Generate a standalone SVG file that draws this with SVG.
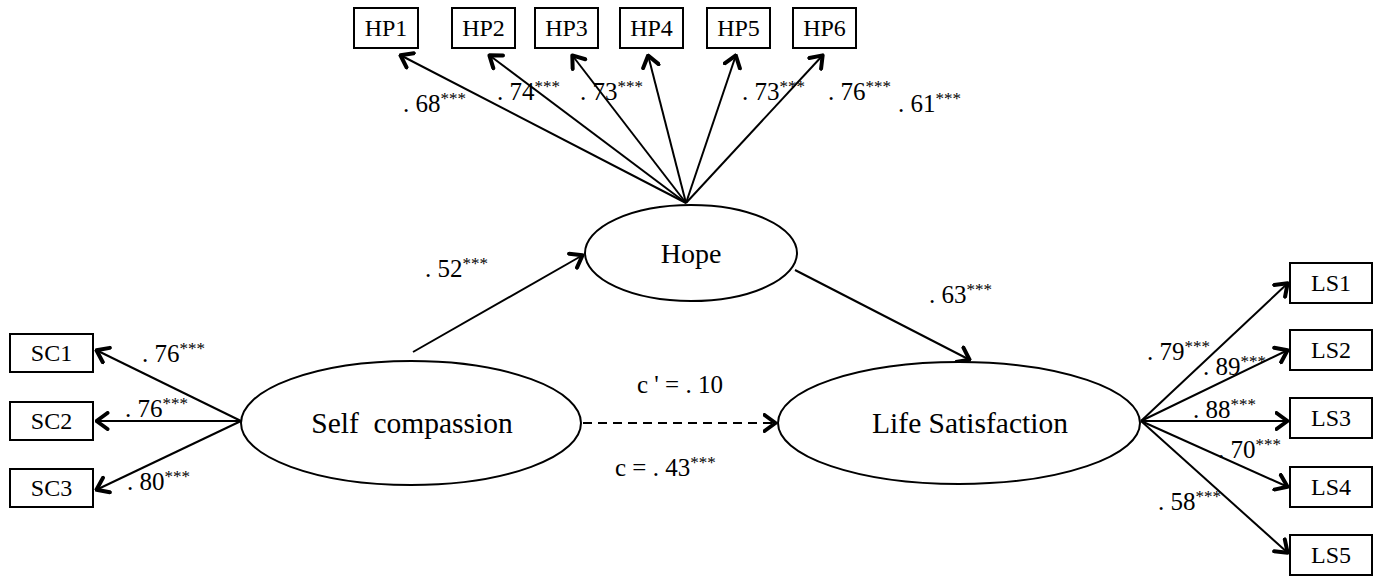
<svg xmlns="http://www.w3.org/2000/svg" width="1378" height="581" viewBox="0 0 1378 581">
<style>
.box{fill:#fff;stroke:#000;stroke-width:2}
.ell{fill:#fff;stroke:#000;stroke-width:2}
.bt{font-family:"Liberation Serif",serif;font-size:24px;text-anchor:middle;fill:#000}
.nt{font-family:"Liberation Serif",serif;font-size:29.5px;text-anchor:middle;fill:#000}
.lb{font-family:"Liberation Serif",serif;font-size:25px;fill:#000}
.sup{font-size:17px}
.ln{stroke:#000;stroke-width:2;fill:none;marker-end:url(#ah)}
.dash{stroke-dasharray:9 6}
</style>
<defs>
<marker id="ah" viewBox="0 0 15 20" refX="13.5" refY="10" markerWidth="15" markerHeight="20" markerUnits="userSpaceOnUse" orient="auto">
<path d="M2,2 L13,10 L2,18" fill="none" stroke="#000" stroke-width="4" stroke-linecap="round" stroke-linejoin="round"/>
</marker>
</defs>
<rect width="1378" height="581" fill="#fff"/>
<g id="connectors">
<line class="ln" x1="686" y1="203" x2="400" y2="55"/>
<line class="ln" x1="686" y1="203" x2="489" y2="55"/>
<line class="ln" x1="686" y1="203" x2="572" y2="55"/>
<line class="ln" x1="686" y1="203" x2="648" y2="55"/>
<line class="ln" x1="686" y1="203" x2="736" y2="55"/>
<line class="ln" x1="686" y1="203" x2="823" y2="55"/>
<line class="ln" x1="241" y1="421" x2="96" y2="350"/>
<line class="ln" x1="241" y1="421" x2="96" y2="421"/>
<line class="ln" x1="241" y1="421" x2="96" y2="490"/>
<line class="ln" x1="413" y1="352" x2="583" y2="255"/>
<line class="ln" x1="795" y1="270" x2="970" y2="360"/>
<line class="ln dash" x1="583" y1="423" x2="776" y2="423"/>
<line class="ln" x1="1141" y1="421" x2="1288" y2="283"/>
<line class="ln" x1="1141" y1="421" x2="1288" y2="350"/>
<line class="ln" x1="1141" y1="421" x2="1288" y2="421"/>
<line class="ln" x1="1141" y1="421" x2="1288" y2="487"/>
<line class="ln" x1="1141" y1="421" x2="1288" y2="553"/>
</g>
<g id="HP1"><rect class="box" x="354" y="8" width="64" height="40"/><text class="bt" x="386" y="36">HP1</text></g>
<g id="HP2"><rect class="box" x="452" y="8" width="63" height="40"/><text class="bt" x="483.5" y="36">HP2</text></g>
<g id="HP3"><rect class="box" x="535" y="8" width="63" height="40"/><text class="bt" x="566.5" y="36">HP3</text></g>
<g id="HP4"><rect class="box" x="620" y="8" width="63" height="40"/><text class="bt" x="651.5" y="36">HP4</text></g>
<g id="HP5"><rect class="box" x="707" y="8" width="63" height="40"/><text class="bt" x="738.5" y="36">HP5</text></g>
<g id="HP6"><rect class="box" x="793" y="8" width="63" height="40"/><text class="bt" x="824.5" y="36">HP6</text></g>
<g id="SC1"><rect class="box" x="10" y="334" width="83" height="38"/><text class="bt" x="51.5" y="361">SC1</text></g>
<g id="SC2"><rect class="box" x="10" y="402" width="83" height="38"/><text class="bt" x="51.5" y="429">SC2</text></g>
<g id="SC3"><rect class="box" x="10" y="469" width="83" height="38"/><text class="bt" x="51.5" y="496">SC3</text></g>
<g id="LS1"><rect class="box" x="1290" y="263" width="82" height="40"/><text class="bt" x="1331" y="291">LS1</text></g>
<g id="LS2"><rect class="box" x="1290" y="330" width="82" height="40"/><text class="bt" x="1331" y="358">LS2</text></g>
<g id="LS3"><rect class="box" x="1290" y="398" width="82" height="40"/><text class="bt" x="1331" y="426">LS3</text></g>
<g id="LS4"><rect class="box" x="1290" y="467" width="82" height="40"/><text class="bt" x="1331" y="495">LS4</text></g>
<g id="LS5"><rect class="box" x="1290" y="535" width="82" height="40"/><text class="bt" x="1331" y="563">LS5</text></g>
<g id="Hope"><ellipse class="ell" cx="691" cy="253" rx="106" ry="48"/><text class="nt" x="691" y="263" style="font-size:28px">Hope</text></g>
<g id="SelfCompassion"><ellipse class="ell" cx="411" cy="423" rx="170" ry="62"/><text class="nt" x="412" y="433" xml:space="preserve">Self  compassion</text></g>
<g id="LifeSatisfaction"><ellipse class="ell" cx="959" cy="423" rx="181" ry="61"/><text class="nt" x="970" y="433">Life Satisfaction</text></g>
<g id="labels">
<text class="lb" x="403" y="112">. 68<tspan class="sup" dy="-8">***</tspan></text>
<text class="lb" x="497" y="100">. 74<tspan class="sup" dy="-8">***</tspan></text>
<text class="lb" x="580" y="100">. 73<tspan class="sup" dy="-8">***</tspan></text>
<text class="lb" x="742" y="100">. 73<tspan class="sup" dy="-8">***</tspan></text>
<text class="lb" x="828" y="100">. 76<tspan class="sup" dy="-8">***</tspan></text>
<text class="lb" x="898" y="112">. 61<tspan class="sup" dy="-8">***</tspan></text>
<text class="lb" x="425" y="277">. 52<tspan class="sup" dy="-8">***</tspan></text>
<text class="lb" x="929" y="303">. 63<tspan class="sup" dy="-8">***</tspan></text>
<text class="lb" x="637" y="393" xml:space="preserve">c ' = . 10</text>
<text class="lb" x="615" y="476" xml:space="preserve">c = . 43<tspan class="sup" dy="-8">***</tspan></text>
<text class="lb" x="142" y="362">. 76<tspan class="sup" dy="-8">***</tspan></text>
<text class="lb" x="125" y="417">. 76<tspan class="sup" dy="-8">***</tspan></text>
<text class="lb" x="127" y="490">. 80<tspan class="sup" dy="-8">***</tspan></text>
<text class="lb" x="1147" y="360">. 79<tspan class="sup" dy="-8">***</tspan></text>
<text class="lb" x="1203" y="375">. 89<tspan class="sup" dy="-8">***</tspan></text>
<text class="lb" x="1193" y="418">. 88<tspan class="sup" dy="-8">***</tspan></text>
<text class="lb" x="1218" y="458">. 70<tspan class="sup" dy="-8">***</tspan></text>
<text class="lb" x="1158" y="510">. 58<tspan class="sup" dy="-8">***</tspan></text>
</g>
</svg>
